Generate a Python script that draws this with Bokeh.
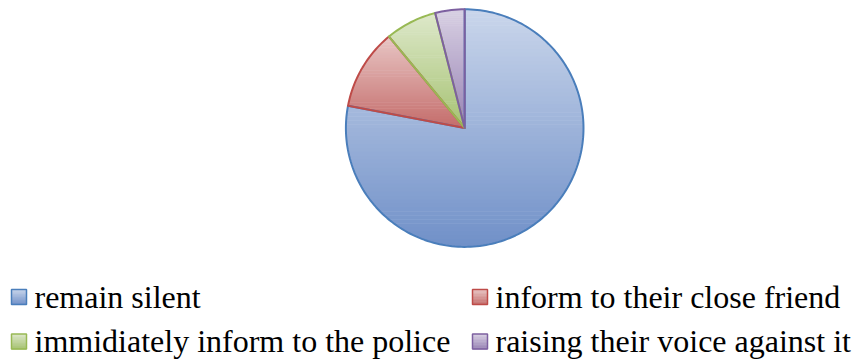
import math
from bokeh.plotting import figure
from bokeh.models import Range1d
from bokeh.core.properties import value
from bokeh.embed import file_html
from bokeh.resources import INLINE

# ---- data ----
categories = ["remain silent", "inform to their close friend",
              "immidiately inform to the police", "raising their voice against it"]
values = [78, 11, 7, 4]

# ---- style ----
top_colors = ["#cad6eb", "#e8c6c5", "#dde8ca", "#d8d0e3"]
bottom_colors = ["#7090c8", "#c46c6a", "#a6c272", "#9883b4"]
edge_colors = ["#4a7ebb", "#be4b48", "#98b954", "#7d60a0"]
legend_order = [0, 2, 1, 3]  # column-major reading of the 2x2 legend

W, H = 855, 360
CX, CY, R = 464.2, 127.6, 118.8

p = figure(width=W, height=H, output_backend="svg", toolbar_location=None,
           x_range=Range1d(0, W), y_range=Range1d(H, 0), min_border=0)
p.axis.visible = False
p.grid.visible = False
p.outline_line_color = None
p.background_fill_color = "white"
p.border_fill_color = "white"


def hex2rgb(h):
    h = h.lstrip("#")
    return tuple(int(h[i:i + 2], 16) for i in (0, 2, 4))


def mix(c0, c1, t):
    a, b = hex2rgb(c0), hex2rgb(c1)
    return "#%02x%02x%02x" % tuple(int(round(a[i] + (b[i] - a[i]) * t)) for i in range(3))


def clip(poly, yv, keep_below):
    out = []
    n = len(poly)
    for i in range(n):
        cur, prv = poly[i], poly[i - 1]
        cin = cur[1] >= yv if keep_below else cur[1] <= yv
        pin = prv[1] >= yv if keep_below else prv[1] <= yv
        if cin:
            if not pin:
                t = (yv - prv[1]) / (cur[1] - prv[1])
                out.append((prv[0] + t * (cur[0] - prv[0]), yv))
            out.append(cur)
        elif pin:
            t = (yv - prv[1]) / (cur[1] - prv[1])
            out.append((prv[0] + t * (cur[0] - prv[0]), yv))
    return out


total = float(sum(values))
polys = []
acc = 0.0
for v in values:
    b0 = acc / total * 2 * math.pi
    acc += v
    b1 = acc / total * 2 * math.pi
    n = max(4, int((b1 - b0) / (2 * math.pi) * 240))
    pts = [(CX, CY)]
    for k in range(n + 1):
        b = b0 + (b1 - b0) * k / n
        pts.append((CX + R * math.sin(b), CY - R * math.cos(b)))
    polys.append(pts)

# gradient-filled slices drawn as thin horizontal bands
xs, ys, fills = [], [], []
NB = 60
for i, pts in enumerate(polys):
    ymin = min(q[1] for q in pts)
    ymax = max(q[1] for q in pts)
    step = (ymax - ymin) / NB
    for k in range(NB):
        ya = ymin + k * step
        yb = ya + step + 0.6
        band = clip(clip(pts, ya, True), yb, False)
        if len(band) < 3:
            continue
        t = (k + 0.5) / NB
        xs.append([q[0] for q in band])
        ys.append([q[1] for q in band])
        fills.append(mix(top_colors[i], bottom_colors[i], t))

p.patches(xs, ys, fill_color=fills, line_color=None)

# slice outlines
for i, pts in enumerate(polys):
    p.patches([[q[0] for q in pts]], [[q[1] for q in pts]], fill_color=None,
              line_color=edge_colors[i], line_width=2, line_join="round")

# legend (2 columns x 2 rows)
col_x = [11, 472]
row_mid = [296.5, 341]
SQ = 15
lx, ly, lt, mx, my, mf = [], [], [], [], [], []
for slot, idx in enumerate(legend_order):
    c, r = slot // 2, slot % 2
    x0 = col_x[c]
    yc = row_mid[r]
    nb = 10
    for k in range(nb):
        mx.append([x0, x0 + SQ, x0 + SQ, x0])
        y0 = yc - SQ / 2 + k * SQ / nb
        y1 = y0 + SQ / nb + 0.4
        my.append([y0, y0, y1, y1])
        mf.append(mix(top_colors[idx], bottom_colors[idx], (k + 0.5) / nb))
    lx.append(x0 + 23)
    ly.append(yc - 0.5)
    lt.append(categories[idx])

p.patches(mx, my, fill_color=mf, line_color=None)
for slot, idx in enumerate(legend_order):
    c, r = slot // 2, slot % 2
    x0 = col_x[c]
    yc = row_mid[r]
    p.quad(left=[x0], right=[x0 + SQ], top=[yc - SQ / 2], bottom=[yc + SQ / 2],
           fill_color=None, line_color=edge_colors[idx], line_width=1.5)

p.text(x=lx, y=ly, text=lt, text_font=value("Liberation Serif"),
       text_font_size="32px", text_baseline="middle", text_align="left",
       text_color="#000000")

open("out.html", "w").write(file_html(p, INLINE))
